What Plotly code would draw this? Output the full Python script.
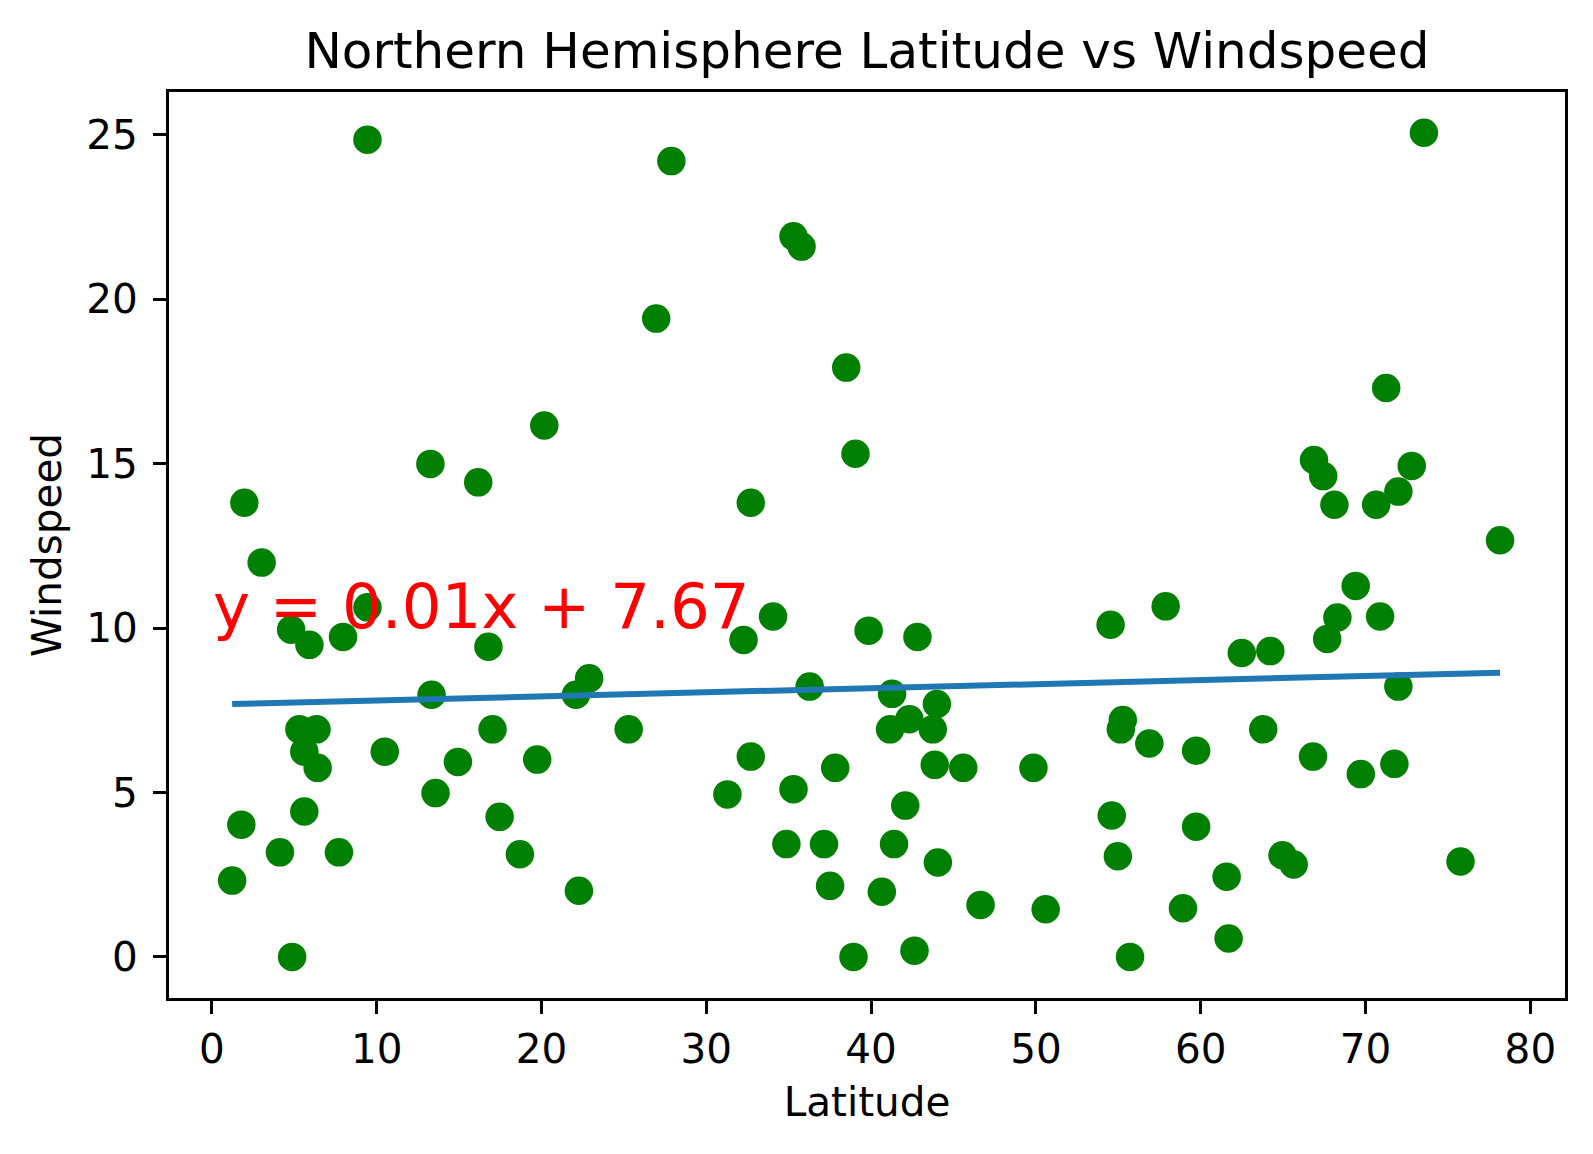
import numpy as np
import plotly.graph_objects as go

# Latitude / windspeed values
latitude = [1.23, 1.79, 1.97, 3.02, 4.13, 4.87, 4.81, 5.31, 5.61, 5.61,
            5.92, 6.35, 6.42, 7.71, 7.96, 9.44, 9.44, 10.49, 13.26, 13.33,
            13.57, 14.93, 16.16, 16.78, 17.03, 17.46, 18.69, 19.74, 20.17, 22.09,
            22.27, 22.89, 25.29, 26.96, 27.88, 31.28, 32.26, 32.70, 32.70, 34.05,
            34.86, 35.29, 35.29, 35.78, 36.27, 37.14, 37.51, 37.82, 38.49, 38.93,
            39.05, 39.85, 40.65, 41.15, 41.27, 41.39, 42.07, 42.32, 42.63, 42.81,
            43.74, 43.99, 43.86, 44.05, 45.59, 46.64, 49.85, 50.59, 54.53, 54.60,
            54.97, 55.15, 55.27, 55.71, 56.88, 57.87, 58.92, 59.72, 59.72, 61.57,
            61.69, 62.49, 63.79, 64.22, 64.96, 65.64, 66.81, 66.87, 67.43, 67.67,
            68.11, 68.29, 69.40, 69.71, 70.64, 70.88, 71.25, 71.75, 71.99, 71.99,
            72.80, 73.54, 75.76, 78.16]
windspeed = [2.32, 4.02, 13.81, 11.99, 3.18, 0.0, 9.95, 6.92, 6.24, 4.42,
             9.49, 6.92, 5.75, 3.18, 9.73, 24.85, 10.63, 6.24, 14.99, 7.97,
             4.98, 5.93, 14.43, 9.43, 6.92, 4.26, 3.12, 6.00, 16.16, 7.97,
             2.01, 8.47, 6.92, 19.41, 24.20, 4.94, 9.64, 13.81, 6.09, 10.35,
             3.43, 5.10, 21.91, 21.60, 8.22, 3.43, 2.16, 5.75, 17.92, 0.0,
             15.30, 9.92, 1.98, 6.92, 8.00, 3.43, 4.60, 7.23, 0.19, 9.73,
             6.92, 7.69, 5.84, 2.87, 5.75, 1.58, 5.75, 1.45, 10.10, 4.30,
             3.06, 6.92, 7.20, 0.0, 6.49, 10.66, 1.48, 6.27, 3.96, 2.44,
             0.56, 9.24, 6.92, 9.30, 3.09, 2.81, 6.09, 15.11, 14.62, 9.67,
             13.75, 10.32, 11.28, 5.56, 13.75, 10.35, 17.30, 5.87, 14.15, 8.22,
             14.93, 25.06, 2.90, 12.67]

equation = "y = 0.01x + 7.67"

# linear regression through the points
lat = np.array(latitude)
ws = np.array(windspeed)
slope, intercept = np.polyfit(lat, ws, 1)
fit = slope * lat + intercept

font = "DejaVu Sans"

fig = go.Figure()
fig.add_trace(go.Scatter(x=latitude, y=windspeed, mode="markers",
                         marker=dict(color="green", size=28.5, line=dict(width=0))))
fig.add_trace(go.Scatter(x=lat, y=fit, mode="lines",
                         line=dict(color="#1f77b4", width=6)))

fig.add_annotation(x=0, y=10, text=equation, showarrow=False,
                   xanchor="left", yanchor="bottom", xshift=-1, yshift=-17,
                   font=dict(family=font, size=62.5, color="red"))

axis_style = dict(showline=True, linecolor="black", linewidth=3, mirror=True,
                  ticks="outside", ticklen=13, tickwidth=3, tickcolor="black",
                  showgrid=False, zeroline=False,
                  tickfont=dict(family=font, size=40.5, color="black"))

fig.update_layout(
    width=1593, height=1154,
    paper_bgcolor="white", plot_bgcolor="white",
    showlegend=False,
    margin=dict(l=169, r=28, t=92, b=156),
    title=dict(text="Northern Hemisphere Latitude vs Windspeed",
               x=(169 + 1565) / 2 / 1593, xanchor="center", yref="container",
               y=1 - 50.5 / 1154, yanchor="middle",
               font=dict(family=font, size=50, color="black")),
    xaxis=dict(range=[-2.6, 82.1], tickvals=list(range(0, 81, 10)),
               ticklabelstandoff=0,
               title=dict(text="Latitude", standoff=17,
                          font=dict(family=font, size=40.5, color="black")),
               **axis_style),
    yaxis=dict(range=[-1.25, 26.3], tickvals=list(range(0, 26, 5)),
               ticklabelstandoff=7,
               title=dict(text="Windspeed", standoff=13,
                          font=dict(family=font, size=40.5, color="black")),
               **axis_style),
)

fig.write_html("out.html", config={"displayModeBar": False},
               post_script="document.body.style.margin='0';")
